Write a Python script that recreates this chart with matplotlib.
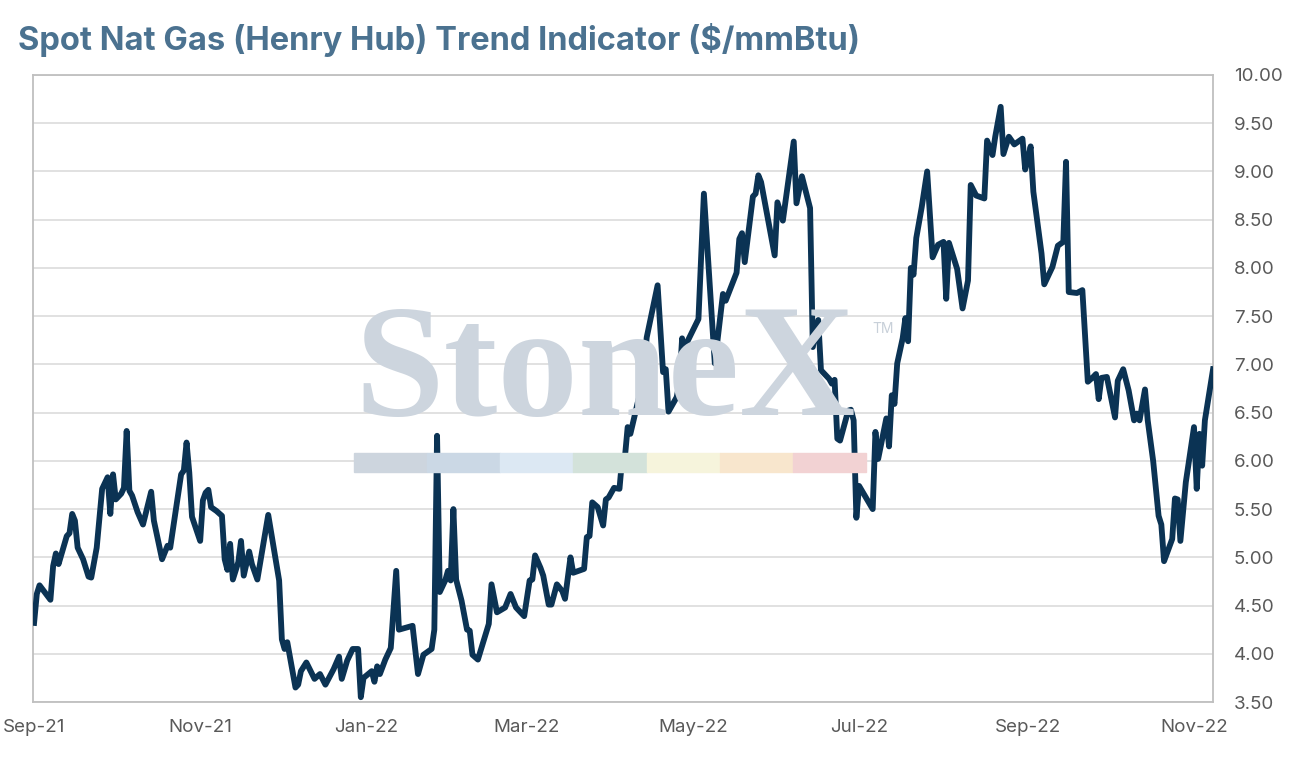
import pandas as pd
import matplotlib
matplotlib.use("Agg")
import matplotlib.pyplot as plt
import matplotlib.dates as mdates
from matplotlib.patches import Rectangle

# days after 1 Sep 2021, and the spot price on that day
day_offsets = [0, 1, 2, 6, 7, 8, 9, 12, 13, 14, 15, 16, 18, 20, 21, 23, 25, 27, 28, 29,
               30, 32, 33, 34, 35, 36, 38, 40, 43, 44, 47, 49, 50, 54, 55, 56, 57, 58, 61, 62,
               63, 64, 65, 67, 69, 70, 71, 72, 73, 75, 76, 77, 79, 80, 82, 86, 90, 91, 92, 93,
               96, 97, 98, 100, 103, 105, 107, 110, 112, 113, 115, 117, 119, 120, 121, 124, 125, 126, 127, 129,
               131, 133, 134, 139, 141, 143, 146, 147, 148, 149, 151, 152, 153, 154, 155, 157, 159, 160, 161, 163,
               167, 168, 170, 173, 175, 177, 180, 182, 183, 184, 186, 187, 189, 190, 192, 194, 195, 197, 198, 202,
               203, 204, 205, 207, 209, 210, 211, 213, 215, 216, 217, 218, 219, 222, 223, 225, 229, 231, 232, 233,
               236, 237, 238, 239, 240, 244, 246, 250, 253, 254, 258, 259, 260, 261, 264, 265, 266, 267, 272, 273,
               275, 279, 280, 282, 285, 286, 288, 289, 292, 293, 294, 295, 296, 299, 300, 301, 302, 303, 308, 309,
               310, 313, 314, 315, 316, 317, 319, 320, 321, 322, 323, 324, 326, 328, 330, 332, 334, 335, 336, 339,
               341, 343, 344, 346, 349, 350, 352, 353, 355, 356, 358, 360, 363, 364, 365, 366, 367, 370, 371, 374,
               376, 378, 379, 380, 383, 385, 387, 389, 390, 391, 392, 394, 397, 398, 400, 402, 404, 405, 406, 408,
               409, 411, 413, 414, 415, 418, 419, 420, 421, 423, 426, 427, 428, 429, 430, 433]

prices = [4.32, 4.62, 4.71, 4.56, 4.91, 5.04, 4.93, 5.22, 5.25, 5.45, 5.38, 5.10, 4.98, 4.80, 4.79, 5.10, 5.71, 5.83, 5.45, 5.86,
          5.60, 5.66, 5.72, 6.31, 5.69, 5.64, 5.47, 5.34, 5.68, 5.38, 4.98, 5.12, 5.10, 5.86, 5.90, 6.19, 5.88, 5.42, 5.17, 5.59,
          5.67, 5.70, 5.52, 5.48, 5.43, 4.98, 4.87, 5.14, 4.77, 4.95, 5.17, 4.81, 5.06, 4.93, 4.77, 5.44, 4.76, 4.15, 4.05, 4.12,
          3.65, 3.68, 3.82, 3.91, 3.74, 3.79, 3.68, 3.84, 3.97, 3.74, 3.93, 4.05, 4.05, 3.55, 3.75, 3.82, 3.71, 3.87, 3.79, 3.94,
          4.06, 4.86, 4.25, 4.29, 3.79, 3.99, 4.05, 4.25, 6.26, 4.64, 4.76, 4.86, 4.76, 5.50, 4.77, 4.55, 4.25, 4.24, 3.99, 3.94,
          4.31, 4.72, 4.43, 4.48, 4.62, 4.48, 4.39, 4.76, 4.77, 5.02, 4.89, 4.81, 4.51, 4.51, 4.72, 4.65, 4.57, 5.00, 4.84, 4.88,
          5.21, 5.22, 5.57, 5.52, 5.33, 5.60, 5.62, 5.72, 5.71, 6.03, 6.04, 6.35, 6.28, 6.64, 6.66, 7.28, 7.82, 6.92, 6.95, 6.51,
          6.66, 6.80, 7.27, 6.87, 7.24, 7.47, 8.77, 7.01, 7.73, 7.66, 7.95, 8.30, 8.36, 8.06, 8.74, 8.77, 8.96, 8.89, 8.13, 8.68,
          8.49, 9.31, 8.67, 8.95, 8.62, 7.18, 7.46, 6.94, 6.85, 6.80, 6.84, 6.23, 6.21, 6.52, 6.53, 6.42, 5.41, 5.74, 5.50, 6.30,
          6.02, 6.44, 6.15, 6.68, 6.59, 7.01, 7.27, 7.48, 7.24, 8.00, 7.93, 8.31, 8.63, 9.00, 8.11, 8.24, 8.27, 7.68, 8.26, 7.99,
          7.58, 7.87, 8.86, 8.75, 8.72, 9.32, 9.17, 9.36, 9.67, 9.18, 9.36, 9.28, 9.34, 9.02, 9.12, 9.26, 8.79, 8.15, 7.83, 8.01,
          8.23, 8.27, 9.10, 7.75, 7.74, 7.77, 6.82, 6.87, 6.90, 6.64, 6.86, 6.87, 6.45, 6.83, 6.95, 6.73, 6.42, 6.49, 6.42, 6.74,
          6.42, 6.00, 5.43, 5.34, 4.96, 5.19, 5.61, 5.60, 5.17, 5.78, 6.35, 5.71, 6.28, 5.95, 6.42, 6.95]

y_ticks = [3.5, 4.0, 4.5, 5.0, 5.5, 6.0, 6.5, 7.0, 7.5, 8.0, 8.5, 9.0, 9.5, 10.0]
title = "Spot Nat Gas (Henry Hub) Trend Indicator ($/mmBtu)"

start = pd.Timestamp("2021-09-01")
dates = start + pd.to_timedelta(day_offsets, unit="D")

plt.rcParams["font.family"] = ["Inter", "DejaVu Sans"]

fig = plt.figure(figsize=(12.92, 7.62), dpi=100)
ax = fig.add_axes([0.0255, 0.0787, 0.9134, 0.8229])

# watermark behind the line
fig.text(0.274, 0.455, "StoneX", family=["Liberation Serif", "DejaVu Serif"],
         fontsize=116, fontweight="bold", color="#cdd5de", ha="left", va="baseline", zorder=0)
fig.text(0.675, 0.563, "TM", fontsize=10, color="#c8d0d9", ha="left", va="baseline")
band_colors = ["#cdd5de", "#cbd8e5", "#dce8f3", "#d3e2da", "#f6f4dc", "#f8e6cd", "#f2d2d3"]
for i, c in enumerate(band_colors):
    fig.patches.append(Rectangle((0.274 + i * 0.0566, 0.380), 0.0566, 0.026,
                                 transform=fig.transFigure, color=c, zorder=0))
ax.set_facecolor("none")

ax.plot(dates, prices, color="#0b3354", lw=4.2, solid_joinstyle="round", zorder=3)

ax.set_ylim(3.5, 10.0)
ax.set_yticks(y_ticks)
ax.yaxis.set_major_formatter(matplotlib.ticker.FormatStrFormatter("%.2f"))
ax.yaxis.tick_right()
ax.set_xlim(start - pd.Timedelta(hours=10), start + pd.Timedelta(days=433))
ax.set_xticks(pd.date_range("2021-09-01", "2022-11-01", freq="2MS"))
ax.xaxis.set_major_formatter(mdates.DateFormatter("%b-%y"))

ax.grid(axis="y", color="#d9d9d9", lw=1.1)
ax.set_axisbelow(True)
for s in ax.spines.values():
    s.set_color("#bfbfbf")
    s.set_linewidth(1.3)
ax.tick_params(axis="both", length=0, labelsize=13.5, labelcolor="#595959")
ax.tick_params(axis="y", pad=15)
ax.tick_params(axis="x", pad=12)

fig.text(0.014, 0.947, title, fontsize=23.5, fontweight="bold", color="#4b7290",
         ha="left", va="center")

fig.savefig("out.png", dpi=100)
